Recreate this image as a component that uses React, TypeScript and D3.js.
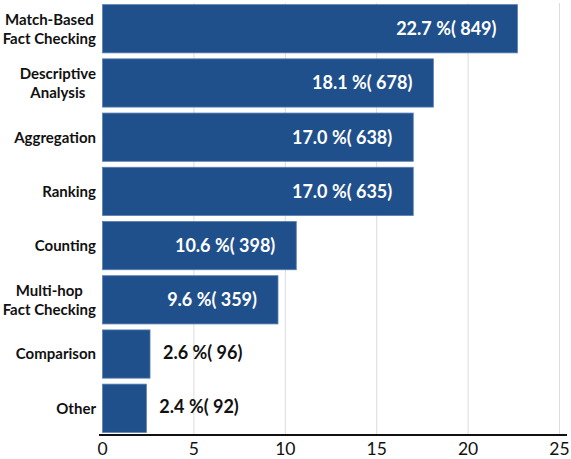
import React, { useEffect, useRef } from "react";
import * as d3 from "d3";

const categories = [
  "Match-Based\nFact Checking",
  "Descriptive\nAnalysis",
  "Aggregation",
  "Ranking",
  "Counting",
  "Multi-hop\nFact Checking",
  "Comparison",
  "Other",
];
const percents = [22.7, 18.1, 17.0, 17.0, 10.6, 9.6, 2.6, 2.4];
const counts = [849, 678, 638, 635, 398, 359, 96, 92];
const xTicks = [0, 5, 10, 15, 20, 25];

const W = 571;
const H = 459;
const FONT = "Lato, 'Open Sans', sans-serif";

export default function App() {
  const ref = useRef<SVGSVGElement | null>(null);

  useEffect(() => {
    const svg = d3.select(ref.current);
    svg.selectAll("*").remove();

    const left = 102.5;
    const right = 559.5;
    const top = 3;
    const axisY = 435;

    const x = d3.scaleLinear().domain([0, 25]).range([left, right]);
    const y = d3
      .scaleBand<string>()
      .domain(categories)
      .range([top, axisY - 1])
      .paddingInner(0.11)
      .paddingOuter(0.03);

    // grid
    svg
      .append("g")
      .selectAll("line")
      .data(xTicks.filter((t) => t > 0))
      .join("line")
      .attr("x1", (d) => x(d))
      .attr("x2", (d) => x(d))
      .attr("y1", top)
      .attr("y2", axisY)
      .attr("stroke", "#dcdcdc")
      .attr("stroke-width", 1);

    // bars
    svg
      .append("g")
      .selectAll("rect")
      .data(categories)
      .join("rect")
      .attr("x", x(0))
      .attr("y", (d) => y(d)!)
      .attr("width", (d, i) => x(percents[i]) - x(0))
      .attr("height", y.bandwidth())
      .attr("fill", "#20508c")
      .attr("stroke", "#5a7fb3")
      .attr("stroke-width", 0.8);

    // value labels
    svg
      .append("g")
      .selectAll("text")
      .data(categories)
      .join("text")
      .attr("x", (d, i) => (percents[i] > 5 ? x(percents[i]) - 21 : x(percents[i]) + 13))
      .attr("y", (d, i) => y(d)! + y.bandwidth() / 2 - (percents[i] > 5 ? 0 : 2))
      .attr("dy", "0.36em")
      .attr("text-anchor", (d, i) => (percents[i] > 5 ? "end" : "start"))
      .attr("fill", (d, i) => (percents[i] > 5 ? "#ffffff" : "#111111"))
      .attr("font-family", FONT)
      .attr("font-weight", 700)
      .attr("font-size", 18)
      .text((d, i) => `${percents[i].toFixed(1)} %( ${counts[i]})`);

    // category labels
    const labelRight = 96;
    const lineH = 19;
    const gLab = svg.append("g");
    categories.forEach((c) => {
      const lines = c.split("\n");
      const cy = y(c)! + y.bandwidth() / 2;
      const t = gLab
        .append("text")
        .attr("font-family", FONT)
        .attr("font-weight", 700)
        .attr("font-size", 15)
        .attr("fill", "#111111")
        .attr("text-anchor", "middle");
      lines.forEach((ln, k) => {
        t.append("tspan")
          .attr("x", 0)
          .attr("y", cy + (k - (lines.length - 1) / 2) * lineH)
          .attr("dy", "0.36em")
          .text(ln);
      });
      const widths = (t.selectAll("tspan").nodes() as SVGTextContentElement[]).map((n) =>
        n.getComputedTextLength()
      );
      const maxW = d3.max(widths) || 0;
      t.selectAll("tspan").attr("x", labelRight - maxW / 2);
    });

    // axis
    svg
      .append("line")
      .attr("x1", 99)
      .attr("x2", 567)
      .attr("y1", axisY)
      .attr("y2", axisY)
      .attr("stroke", "#111111")
      .attr("stroke-width", 2.2);

    svg
      .append("g")
      .selectAll("text")
      .data(xTicks)
      .join("text")
      .attr("x", (d) => x(d))
      .attr("y", 449)
      .attr("dy", "0.36em")
      .attr("text-anchor", "middle")
      .attr("font-family", FONT)
      .attr("font-size", 17.5)
      .attr("fill", "#111111")
      .text((d) => String(d));
  }, []);

  return (
    <svg
      ref={ref}
      width={W}
      height={H}
      style={{ position: "absolute", left: 0, top: 0, background: "#ffffff" }}
    />
  );
}
